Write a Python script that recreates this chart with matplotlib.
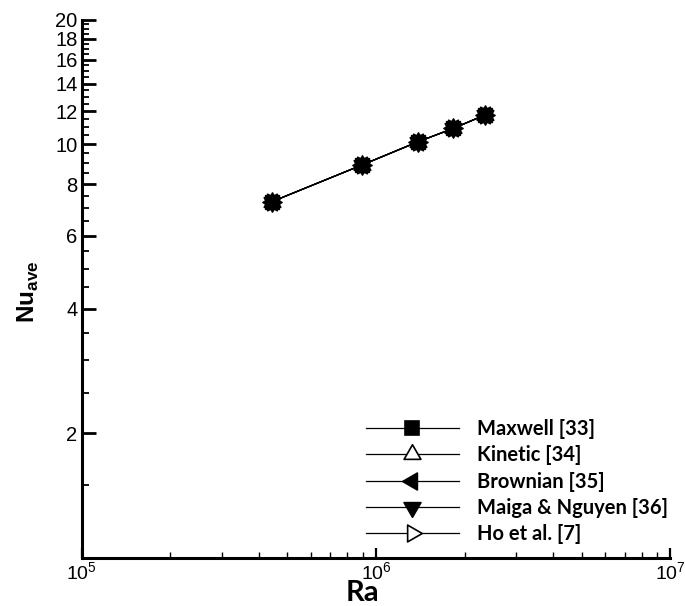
import matplotlib
matplotlib.use("Agg")
import matplotlib.pyplot as plt
import numpy as np
from matplotlib.path import Path
from matplotlib.ticker import FixedLocator, FixedFormatter, LogLocator, LogFormatterMathtext, NullFormatter

plt.rcParams['font.family'] = ['Liberation Sans', 'DejaVu Sans']
plt.rcParams['mathtext.fontset'] = 'custom'
plt.rcParams['mathtext.rm'] = 'Liberation Sans'
plt.rcParams['mathtext.bf'] = 'Liberation Sans:bold'

# ---- data ----
ra = [4.42e5, 8.93e5, 1.39e6, 1.83e6, 2.34e6]
nu_maxwell = [7.25, 8.89, 10.13, 10.91, 11.75]
nu_kinetic = [7.25, 8.89, 10.13, 10.91, 11.75]
nu_brownian = [7.25, 8.89, 10.13, 10.91, 11.75]
nu_maiga = [7.25, 8.89, 10.13, 10.91, 11.75]
nu_ho = [7.25, 8.89, 10.13, 10.91, 11.75]
labels = ['Maxwell [33]', 'Kinetic [34]', 'Brownian [35]', 'Maiga & Nguyen [36]', 'Ho et al. [7]']
y_major = [2, 4, 6, 8, 10, 12, 14, 16, 18, 20]
y_major_labels = ['2', '4', '6', '8', '10', '12', '14', '16', '18', '20']

W, H = 685, 606
fig = plt.figure(figsize=(W / 100, H / 100), dpi=100)
ax = fig.add_axes([81.7 / W, (H - 557.5) / H, (670.3 - 81.7) / W, (557.5 - 19.6) / H])

# equilateral triangle markers (Tecplot style), closed paths
s3 = np.sqrt(3) / 2
def tri(v):
    return Path(v + [v[0]], [Path.MOVETO, Path.LINETO, Path.LINETO, Path.CLOSEPOLY])
tri_up = tri([(0, 1), (-s3, -0.5), (s3, -0.5)])
tri_down = tri([(0, -1), (-s3, 0.5), (s3, 0.5)])
tri_left = tri([(-1, 0), (0.5, s3), (0.5, -s3)])
tri_right = tri([(1, 0), (-0.5, s3), (-0.5, -s3)])

series = [
    (nu_maxwell, dict(marker='s', ms=9.5), 'black'),
    (nu_kinetic, dict(marker=tri_up, ms=14), 'white'),
    (nu_brownian, dict(marker=tri_left, ms=14), 'black'),
    (nu_maiga, dict(marker=tri_down, ms=14), 'black'),
    (nu_ho, dict(marker=tri_right, ms=14), 'white'),
]
handles = []
for (vals, st, fc), lab in zip(series, labels):
    h, = ax.plot(ra, vals, color='black', lw=0.9, mew=1.0, mfc='black', mec='black', label=lab, **st)
    handles.append(h)

ax.set_xscale('log')
ax.set_yscale('log')
ax.set_xlim(1e5, 1e7)
ax.set_ylim(1, 20)

ax.xaxis.set_major_locator(LogLocator(base=10, numticks=10))
ax.xaxis.set_major_formatter(LogFormatterMathtext())
ax.xaxis.set_minor_locator(LogLocator(base=10, subs=np.arange(2, 10), numticks=20))
ax.xaxis.set_minor_formatter(NullFormatter())

ax.yaxis.set_major_locator(FixedLocator(y_major))
ax.yaxis.set_major_formatter(FixedFormatter(y_major_labels))
minor_y = [v for v in np.arange(1.5, 20.0, 0.5) if v not in y_major]
ax.yaxis.set_minor_locator(FixedLocator(minor_y))
ax.yaxis.set_minor_formatter(NullFormatter())

for s in ['top', 'right']:
    ax.spines[s].set_visible(False)
for s in ['left', 'bottom']:
    ax.spines[s].set_linewidth(2.2)

ax.tick_params(axis='y', which='major', direction='in', length=10, width=2.0, labelsize=14.5, pad=3)
ax.tick_params(axis='y', which='minor', direction='in', length=5, width=1.3)
ax.tick_params(axis='x', which='major', direction='in', length=7, width=1.6, labelsize=14, pad=3)
ax.tick_params(axis='x', which='minor', direction='in', length=4, width=1.0)
ax.tick_params(top=False, right=False, which='both')

fig.text(362 / W, 1 - 593 / H, 'Ra', fontsize=21, fontweight='bold', family=['Lato', 'DejaVu Sans'],
         ha='center', va='center')
fig.text(28 / W, 1 - 292 / H, r'$\mathbf{Nu}_{\mathbf{ave}}$', fontsize=17.5, rotation=90,
         ha='center', va='center')

leg = ax.legend(handles=handles, loc='upper left', bbox_to_anchor=(356 / W, 1 - 409 / H),
                bbox_transform=fig.transFigure, frameon=False, borderpad=0,
                handlelength=4.6, handletextpad=0.9, labelspacing=0.31, numpoints=1,
                prop=dict(family=['Lato', 'DejaVu Sans'], weight='bold', size=14.5))
for lh, (vals, st, fc) in zip(leg.legend_handles, series):
    lh.set_markerfacecolor(fc)
    lh.set_markeredgecolor('black')
    lh.set_markeredgewidth(1.2)

fig.savefig('out.png', dpi=100)
